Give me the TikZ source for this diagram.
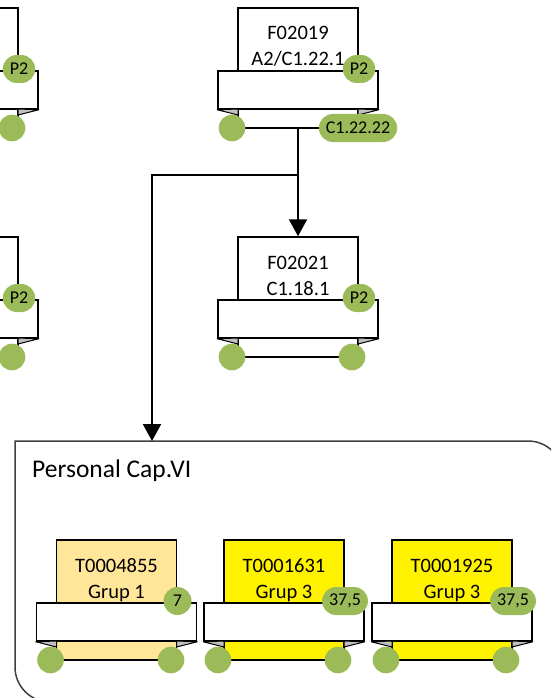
\documentclass[tikz,border=0pt]{standalone}
\usepackage{fontspec}
\setmainfont{Carlito}
\usetikzlibrary{arrows.meta}
\definecolor{leaf}{HTML}{9BBB59}
\definecolor{foldgray}{HTML}{C0C0C0}
\definecolor{peach}{HTML}{FFE699}
\definecolor{framegray}{HTML}{404040}
\tikzset{
  cardbox/.style={draw=black, line width=1.5pt, minimum width=120pt, minimum height=120pt, inner sep=0pt},
  ribbon/.style={draw=black, fill=white, line width=1.5pt, minimum width=160pt, minimum height=38pt, inner sep=0pt},
  fold/.style={draw=black, fill=foldgray, line width=1pt, line join=round},
  dot/.style={circle, fill=leaf, minimum size=26.6pt, inner sep=0pt},
  pill/.style={fill=leaf, rounded corners=14pt, minimum height=28pt, minimum width=28pt, inner xsep=7pt, inner ysep=0pt, font=\fontsize{18}{20}\selectfont},
  cardtext/.style={anchor=base, inner sep=0pt, font=\fontsize{20.5}{24}\selectfont},
  conn/.style={line width=2.2pt, -{Triangle[width=18pt,length=17pt]}},
}
\newcommand\cardunit[7]{%
  \node[cardbox, fill=#4] (#1) at (#2,#3+60) {};
  \node[ribbon] (#1-rib) at (#2,#3+82) {};
  \draw[fold] (#1-rib.south west) -- (#2-60,#3+101) -- (#2-60,#3+107) -- cycle;
  \draw[fold] (#1-rib.south east) -- (#2+60,#3+101) -- (#2+60,#3+107) -- cycle;
  \node[dot] (#1-l) at (#2-66,#3+120) {};
  \node[pill] (#1-p) at (#2+61,#3+61) {#7};
  \node[cardtext] (#1-t1) at (#2,#3+32) {#5};
  \node[cardtext] (#1-t2) at (#2,#3+58) {#6};
}
\begin{document}
\begin{tikzpicture}[x=1pt,y=-1pt]
\useasboundingbox (0,0) rectangle (551,698);
\fill[white] (0,0) rectangle (551,698);
\clip (0,0) rectangle (551,698);

% container
\draw[framegray, line width=1.5pt] (563,476) arc[start angle=0, end angle=-90, radius=35] -- (15,441) -- (15,667) arc[start angle=180, end angle=90, radius=35];
\coordinate (cont) at (152,441);
\node[anchor=base west, inner sep=0pt, font=\fontsize{25.5}{28}\selectfont] (title) at (32,477) {Personal Cap.VI};

% left partial units
\cardunit{L1}{-42}{8}{white}{}{}{P2}
\node[dot] (L1-r) at (12,128) {};
\cardunit{L2}{-42}{237}{white}{}{}{P2}
\node[dot] (L2-r) at (12,357) {};

% top unit
\cardunit{F02019}{298}{8}{white}{F02019}{A2/C1.22.1}{P2}
\node[pill] (F02019-c) at (358,128) {C1.22.22};

% second unit
\cardunit{F02021}{298}{237}{white}{F02021}{C1.18.1}{P2}
\node[dot] (F02021-r) at (352,357) {};

% bottom units
\cardunit{T1}{116.5}{540}{peach}{T0004855}{Grup 1}{7}
\node[dot] (T1-r) at (171,660) {};
\cardunit{T2}{284}{540}{yellow}{T0001631}{Grup 3}{37,5}
\node[dot] (T2-r) at (338,660) {};
\cardunit{T3}{452}{540}{yellow}{T0001925}{Grup 3}{37,5}
\node[dot] (T3-r) at (506,660) {};

% connectors
\draw[conn] (F02019.south) -- (F02021.north);
\draw[conn] (F02019.south) -- ++(0,46) -| (cont);
\end{tikzpicture}
\end{document}
